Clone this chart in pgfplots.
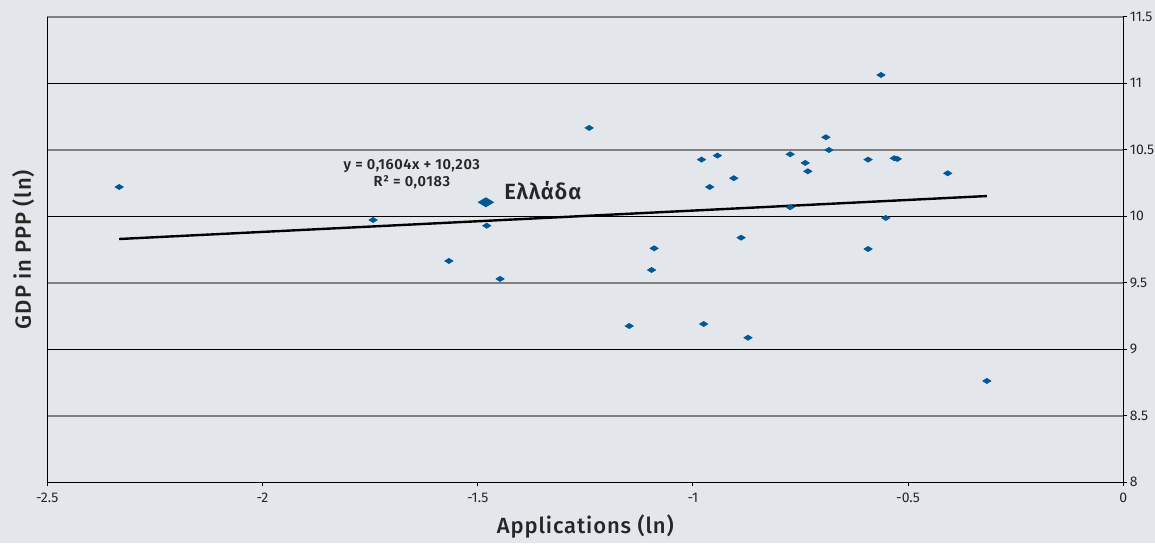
\documentclass[border=0pt]{standalone}
\usepackage{pgfplots}
\pgfplotsset{compat=1.18}
\usepackage{fontspec}
\setmainfont{Fira Sans}
\newfontfamily\medfont{Fira Sans}[UprightFont=* Medium, LetterSpace=4]
\newfontfamily\eqfont{Fira Sans}[UprightFont=* SemiBold, LetterSpace=4]
\definecolor{bg}{RGB}{227,230,235}
\definecolor{pt}{RGB}{0,88,150}
\begin{document}
\begin{tikzpicture}
\path[use as bounding box, fill=bg] (-23.65pt,-30.35pt) rectangle (553.85pt,241.15pt);
\begin{axis}[at={(0,0)}, anchor=south west, scale only axis, clip=false,
  width=538pt, height=232.8pt,
  xmin=-2.5, xmax=0, ymin=8, ymax=11.5,
  axis x line*=bottom, axis y line*=right,
  axis line style={black, line width=0.6pt},
  xtick={-2.5,-2,-1.5,-1,-0.5,0},
  ytick={8,9,10,11},
  extra y ticks={8.5,9.5,10.5,11.5},
  ymajorgrids,
  grid style={black, line width=0.5pt},
  extra y tick style={grid style={black!50, line width=0.9pt}},
  tick align=outside, major tick length=2pt,
  tick style={black, line width=0.5pt},
  tick label style={font=\fontsize{7}{8}\selectfont, text=black!85},
  yticklabel style={xshift=-2.2pt},
  /pgf/number format/assume math mode=true,
  /pgf/number format/.cd, fixed, precision=1, /pgfplots/.cd,
]
\addplot[only marks, mark=diamond*, mark size=2pt,
  mark options={xscale=1.33, yscale=0.625, draw=pt, fill=pt}]
coordinates {
(-2.333,10.220) (-1.743,9.972) (-1.567,9.664) (-1.479,9.929) (-1.448,9.529)
(-1.241,10.664) (-1.148,9.175) (-1.096,9.596) (-1.090,9.759) (-0.980,10.426)
(-0.943,10.456) (-0.961,10.220) (-0.905,10.286) (-0.888,9.839) (-0.975,9.190)
(-0.872,9.087) (-0.774,10.466) (-0.774,10.068) (-0.739,10.401) (-0.733,10.338)
(-0.691,10.594) (-0.684,10.498) (-0.593,10.426) (-0.593,9.754) (-0.552,9.987)
(-0.532,10.436) (-0.525,10.431) (-0.408,10.323) (-0.563,11.062) (-0.317,8.762)
};
\addplot[only marks, mark=diamond*, mark size=3pt,
  mark options={xscale=1.67, yscale=0.75, draw=pt, fill=pt}]
coordinates {(-1.481,10.105)};
\addplot[black, line width=1.2pt] coordinates {(-2.333,9.829) (-0.317,10.152)};
\node[font=\eqfont\fontsize{7.3}{8.5}\selectfont, align=center, text=black!85]
  at (axis cs:-1.653,10.314) {y = 0,1604x + 10,203\\R² = 0,0183};
\node[anchor=west, inner sep=0pt, font=\eqfont\fontsize{11}{13}\selectfont, text=black!85]
  at (axis cs:-1.439,10.19) {Ελλάδα};
\node[font=\medfont\fontsize{11}{13}\selectfont, text=black!85, yshift=-22pt]
  at (rel axis cs:0.5,0) {Applications (ln)};
\node[font=\medfont\fontsize{11}{13}\selectfont, text=black!85, rotate=90, yshift=12pt]
  at (rel axis cs:0,0.5) {GDP in PPP (ln)};
\end{axis}
\draw[black, line width=0.6pt] (0,0) -- (0,232.8pt);
\end{tikzpicture}
\end{document}
